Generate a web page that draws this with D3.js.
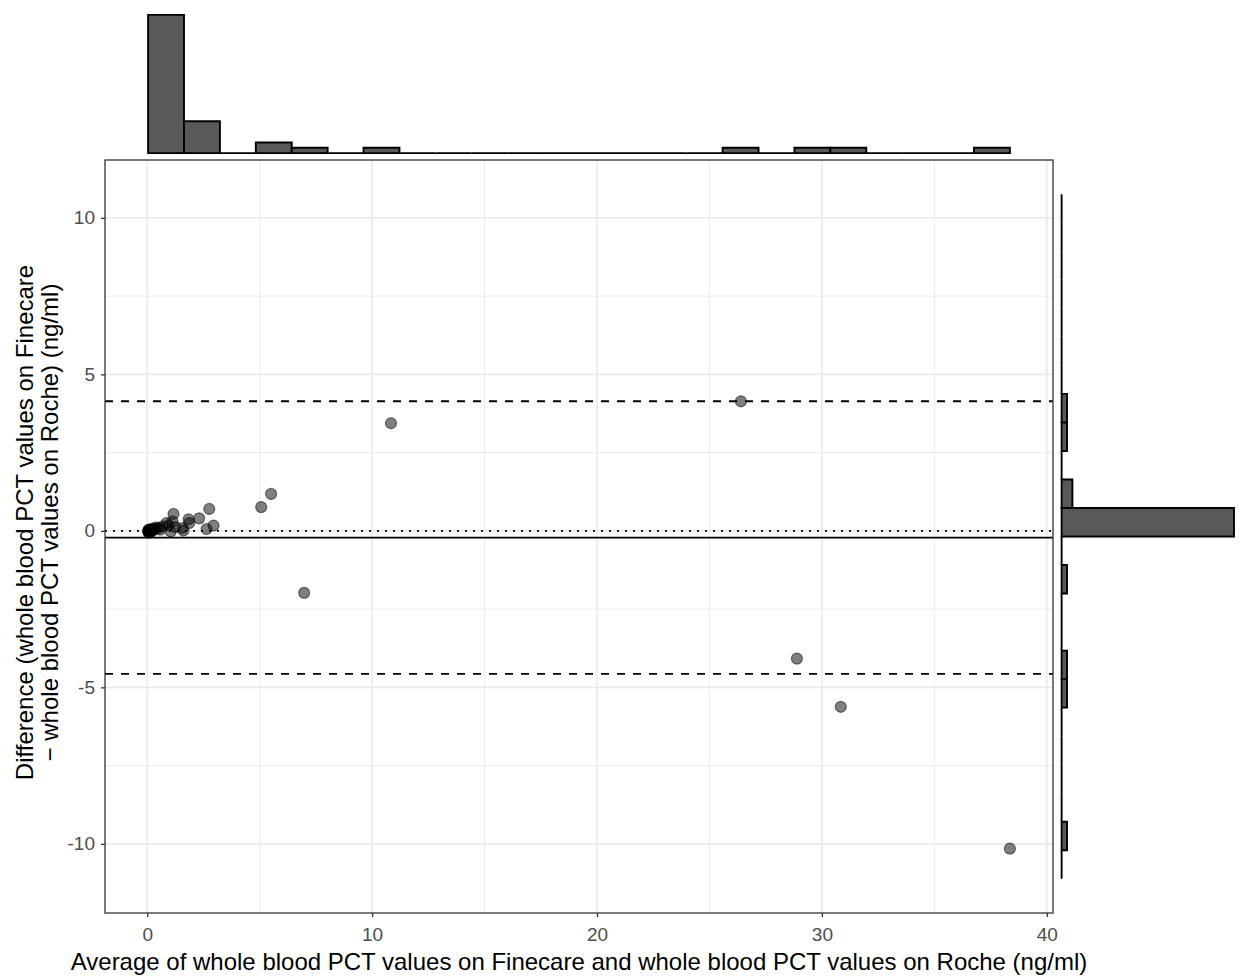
<!DOCTYPE html>
<html>
<head>
  <title>Bland-Altman Finecare vs Roche</title>
</head>
<body>
<script src="https://d3js.org/d3.v7.min.js"></script>

<script type="text/javascript">
// average of the two methods (x) and their difference (y)
var avgVals = [
  26.40, 10.84, 5.51, 5.07, 6.98, 28.89, 30.84, 38.36,
  1.84, 1.87, 2.31, 2.64, 2.76, 2.95,
  1.57, 1.61, 1.17, 1.13, 1.05, 0.86, 0.68, 0.50, 0.33, 0.09, 0.04,
  0.05, 0.06, 0.07, 0.08, 0.10, 0.12, 0.14, 0.16, 0.19, 0.23, 0.27, 0.40, 0.58, 0.95, 1.25
];
var diffVals = [
  4.14, 3.44, 1.18, 0.76, -1.98, -4.08, -5.62, -10.15,
  0.37, 0.25, 0.40, 0.06, 0.70, 0.17,
  0.09, 0.01, 0.54, 0.30, -0.02, 0.25, 0.14, 0.09, 0.06, 0.01, 0.00,
  -0.03, 0.02, -0.06, 0.04, -0.02, 0.03, -0.04, 0.05, 0.02, 0.00, 0.07, 0.11, 0.04, 0.18, 0.12
];

var meanDiff = -0.215;
var loaUpper = 4.14;
var loaLower = -4.57;
var yLimits = [-11.115, 10.755];
var nBins = 24;
var xTicks = [0, 10, 20, 30, 40];
var yTicks = [-10, -5, 0, 5, 10];
var xTitle = "Average of whole blood PCT values on Finecare and whole blood PCT values on Roche (ng/ml)";
var yTitle = ["Difference (whole blood PCT values on Finecare", "\u2212 whole blood PCT values on Roche) (ng/ml)"];

var width = 1239, height = 976;
var pl = 105, pr = 1053, pt = 160, pb = 913;

var svg = d3.select("body")
            .append("svg")
            .attr("width", width)
            .attr("height", height)
            .style("font-family", "'Liberation Sans', Arial, sans-serif");

svg.append("rect").attr("width", width).attr("height", height).attr("fill", "#fff");

// ggplot style 5% expansion
var xExt = d3.extent(avgVals);
var xPad = (xExt[1] - xExt[0]) * 0.05;
var x = d3.scaleLinear()
          .domain([xExt[0] - xPad, xExt[1] + xPad])
          .range([pl, pr]);
var yPad = (yLimits[1] - yLimits[0]) * 0.05;
var y = d3.scaleLinear()
          .domain([yLimits[0] - yPad, yLimits[1] + yPad])
          .range([pb, pt]);

// grid
var xMinor = d3.range(5, 40, 10);
var yMinor = [-7.5, -2.5, 2.5, 7.5];
var grid = svg.append("g").attr("stroke", "#ebebeb").attr("fill", "none");
grid.selectAll(".xminor").data(xMinor).enter().append("line")
    .attr("x1", d => x(d)).attr("x2", d => x(d)).attr("y1", pt).attr("y2", pb)
    .attr("stroke-width", 1);
grid.selectAll(".yminor").data(yMinor).enter().append("line")
    .attr("y1", d => y(d)).attr("y2", d => y(d)).attr("x1", pl).attr("x2", pr)
    .attr("stroke-width", 1);
grid.selectAll(".xmajor").data(xTicks).enter().append("line")
    .attr("x1", d => x(d)).attr("x2", d => x(d)).attr("y1", pt).attr("y2", pb)
    .attr("stroke-width", 1.7);
grid.selectAll(".ymajor").data(yTicks).enter().append("line")
    .attr("y1", d => y(d)).attr("y2", d => y(d)).attr("x1", pl).attr("x2", pr)
    .attr("stroke-width", 1.7);

// reference lines
var hlines = [
  {v: 0, dash: "2,6"},
  {v: meanDiff, dash: null},
  {v: loaUpper, dash: "8,8"},
  {v: loaLower, dash: "8,8"}
];
svg.selectAll(".hline").data(hlines).enter().append("line")
   .attr("x1", pl).attr("x2", pr)
   .attr("y1", d => y(d.v)).attr("y2", d => y(d.v))
   .attr("stroke", "#000")
   .attr("stroke-width", 1.9)
   .attr("stroke-dasharray", d => d.dash);

// points
var pts = avgVals.map((a, i) => ({a: a, d: diffVals[i]}));
svg.append("g").selectAll("circle")
   .data(pts)
   .enter()
   .append("circle")
   .attr("cx", d => x(d.a))
   .attr("cy", d => y(d.d))
   .attr("r", 5.5)
   .attr("fill", "rgba(0,0,0,0.5)")
   .attr("stroke", "rgba(0,0,0,0.5)")
   .attr("stroke-width", 1.2);

// panel border
svg.append("rect")
   .attr("x", pl).attr("y", pt)
   .attr("width", pr - pl).attr("height", pb - pt)
   .attr("fill", "none").attr("stroke", "#333").attr("stroke-width", 1.3);

// axes
var xAxis = d3.axisBottom(x).tickValues(xTicks).tickSize(4).tickPadding(11);
var yAxis = d3.axisLeft(y).tickValues(yTicks).tickSize(4).tickPadding(6)
              .tickFormat(d => d < 0 ? "-" + Math.abs(d) : d);
var gx = svg.append("g").attr("transform", "translate(0," + pb + ")").call(xAxis);
var gy = svg.append("g").attr("transform", "translate(" + pl + ",0)").call(yAxis);
[gx, gy].forEach(g => {
  g.select(".domain").remove();
  g.selectAll(".tick line").attr("stroke", "#333").attr("stroke-width", 1.3);
  g.selectAll(".tick text").attr("fill", "#4d4d4d")
   .style("font-size", "19px").style("font-family", "'Liberation Sans', Arial, sans-serif");
});

svg.append("text")
   .attr("x", (pl + pr) / 2).attr("y", 970)
   .attr("text-anchor", "middle")
   .style("font-size", "24px")
   .text(xTitle);

var yt = svg.append("text")
   .attr("transform", "translate(33," + ((pt + pb) / 2 - 14) + ") rotate(-90)")
   .attr("text-anchor", "middle")
   .style("font-size", "24px");
yt.selectAll("tspan").data(yTitle).enter().append("tspan")
  .attr("x", 0).attr("y", (d, i) => i * 25)
  .text(d => d);

// marginal histograms
function binner(ext) {
  var w = (ext[1] - ext[0]) / nBins;
  return d3.bin().domain(ext).thresholds(d3.range(1, nBins).map(k => ext[0] + k * w));
}
var xBins = binner(xExt)(avgVals);
var yBins = binner(yLimits)(diffVals);

var maxTop = d3.max(xBins, b => b.length);
var cTop = d3.scaleLinear()
             .domain([-0.05 * maxTop, 1.05 * maxTop])
             .range([pt, 8]);
svg.append("g").selectAll("path")
   .data(xBins)
   .enter()
   .append("path")
   .attr("d", b => "M" + x(b.x0) + "," + cTop(0) + "V" + cTop(b.length) +
                   "H" + x(b.x1) + "V" + cTop(0) + "Z")
   .attr("fill", "#595959")
   .attr("stroke", "#000")
   .attr("stroke-width", 1.9);

var maxRight = d3.max(yBins, b => b.length);
var cRight = d3.scaleLinear()
               .domain([-0.05 * maxRight, 1.05 * maxRight])
               .range([pr, pr + (pr - pl) / 5]);
svg.append("g").selectAll("path")
   .data(yBins)
   .enter()
   .append("path")
   .attr("d", b => "M" + cRight(0) + "," + y(b.x0) + "H" + cRight(b.length) +
                   "V" + y(b.x1) + "H" + cRight(0) + "Z")
   .attr("fill", "#595959")
   .attr("stroke", "#000")
   .attr("stroke-width", 1.9);
</script>
<style>
body { margin: 0; }
</style>
</body>
</html>
